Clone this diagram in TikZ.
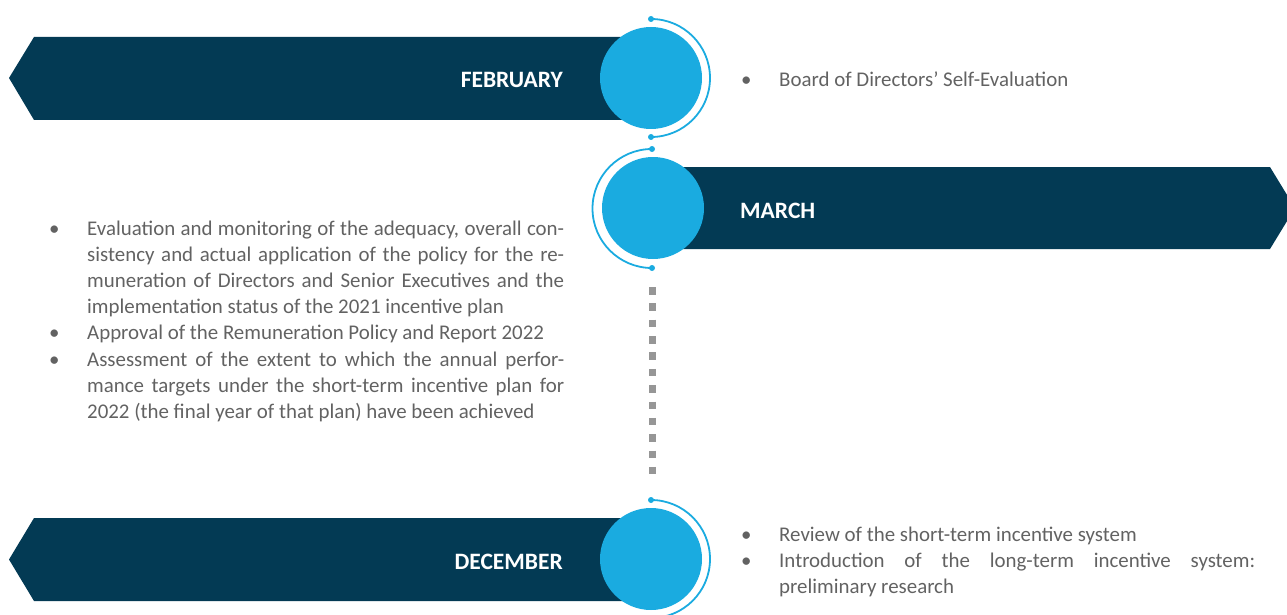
\documentclass[tikz,border=0pt]{standalone}
\usepackage{fontspec}
\setmainfont{Carlito}
\definecolor{navy}{RGB}{3,58,84}
\definecolor{sky}{RGB}{26,171,224}
\definecolor{txt}{RGB}{98,98,98}
\definecolor{dotgray}{RGB}{150,150,150}
\newcommand{\bitem}{\par\noindent\hangindent=38pt\relax\hangafter=1\relax\makebox[38pt][l]{\textbullet}}
\newenvironment{blist}[1]{\begin{minipage}[t]{#1}\fontsize{20.9}{26.2}\selectfont
  \spaceskip=\fontdimen2\font plus \fontdimen3\font minus 0.12em\relax
  \hyphenpenalty=10000\relax\exhyphenpenalty=10000\relax\parindent=0pt\relax\parskip=0pt\relax}{\par\end{minipage}}
\begin{document}
\begin{tikzpicture}[x=1pt,y=-1pt,
  bar/.style={fill=navy},
  disc/.style={circle,fill=sky,minimum size=102pt,inner sep=0pt},
  ring/.style={draw=sky,line width=1.8pt},
  tipdot/.style={circle,fill=sky,minimum size=6pt,inner sep=0pt},
  month/.style={text=white,font=\fontsize{23.5}{28}\selectfont\bfseries,inner sep=0pt},
  body/.style={text=txt,inner sep=0pt,anchor=base west},
  gap/.style={draw=dotgray,line width=7pt,dash pattern=on 7.5pt off 8.86pt}]
\useasboundingbox (0,0) rectangle (1287,615);
\begin{scope}
\clip (0,0) rectangle (1287,615);
% bars
\fill[bar] (9,78) -- (34,37) -- (651,37) -- (651,120) -- (34,120) -- cycle;
\fill[bar] (653,167) -- (1270,167) -- (1295,208) -- (1270,249) -- (653,249) -- cycle;
\fill[bar] (9,559.5) -- (34,518) -- (651,518) -- (651,601) -- (34,601) -- cycle;
% discs
\node[disc] (febdisc) at (651,78) {};
\node[disc] (mardisc) at (653,208) {};
\node[disc] (decdisc) at (651,559) {};
% arcs
\coordinate (febtop) at (651,19);
\coordinate (febbot) at (651,137);
\coordinate (martop) at (652,149);
\coordinate (marbot) at (652,268);
\coordinate (dectop) at (651,500);
\draw[ring] (febtop) arc[start angle=-90,end angle=90,radius=59];
\draw[ring] (martop) arc[start angle=-90,end angle=-270,radius=59.5];
\draw[ring] (dectop) arc[start angle=-90,end angle=90,radius=59];
\node[tipdot] (d1) at (febtop) {};
\node[tipdot] (d2) at (febbot) {};
\node[tipdot] (d3) at (martop) {};
\node[tipdot] (d4) at (marbot) {};
\node[tipdot] (d5) at (dectop) {};
% dotted connector
\coordinate (gs) at (652,287);
\coordinate (ge) at (652,476);
\draw[gap] (gs) -- (ge);
\end{scope}
% month labels
\node[month,anchor=base east] (feb) at (563,88) {FEBRUARY};
\node[month,anchor=base west] (mar) at (740,218) {MARCH};
\node[month,anchor=base east] (dec) at (563,569) {DECEMBER};
% texts
\node[body] (febtxt) at (741,87) {\begin{blist}{514pt}\bitem Board of Directors’ Self-Evaluation\end{blist}};
\node[body] (martxt) at (49,235) {\begin{blist}{515pt}\bitem Evaluation and monitoring of the adequacy, overall con-\linebreak
sistency and actual application of the policy for the re-\linebreak
muneration of Directors and Senior Executives and the\linebreak
implementation status of the 2021 incentive plan
\bitem Approval of the Remuneration Policy and Report 2022
\bitem Assessment of the extent to which the annual perfor-\linebreak
mance targets under the short-term incentive plan for\linebreak
2022 (the final year of that plan) have been achieved\end{blist}};
\node[body] (dectxt) at (741,541) {\begin{blist}{514pt}\bitem Review of the short-term incentive system
\bitem Introduction of the long-term incentive system:\linebreak
preliminary research\end{blist}};
\end{tikzpicture}
\end{document}
